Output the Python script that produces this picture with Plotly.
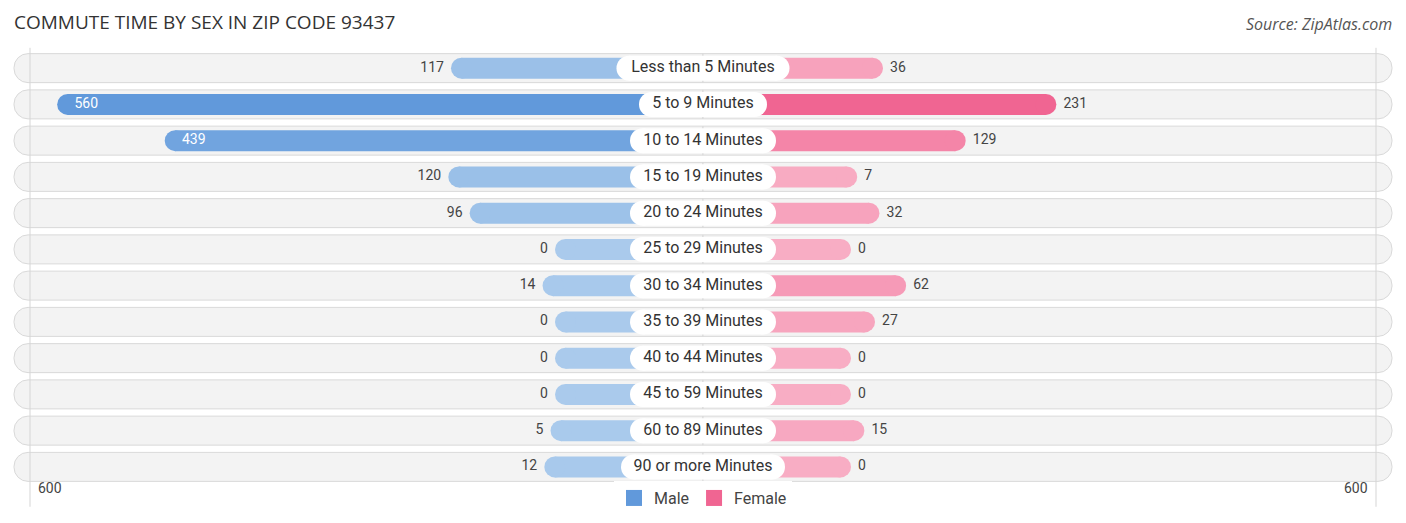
import plotly.graph_objects as go

categories = [
    "Less than 5 Minutes", "5 to 9 Minutes", "10 to 14 Minutes", "15 to 19 Minutes",
    "20 to 24 Minutes", "25 to 29 Minutes", "30 to 34 Minutes", "35 to 39 Minutes",
    "40 to 44 Minutes", "45 to 59 Minutes", "60 to 89 Minutes", "90 or more Minutes",
]
male = [117, 560, 439, 120, 96, 0, 14, 0, 0, 0, 5, 12]
female = [36, 231, 129, 7, 32, 0, 62, 27, 0, 0, 15, 0]
axis_max = 600

# layout helpers (pixels -> data units)
PX = 0.889          # px per unit
OFF = 148 / PX      # every bar starts under the centre label
EDGE = 689 / PX     # row background half width
GRID = 673 / PX     # where the "600" guide lines sit
HALF = 703 / PX
BAR_H = 21          # bar thickness, px
BOX_H = 25          # label box thickness, px
ROW = 36.25         # px per row
R_BAR = BAR_H / 2 / PX
R_BOX = BOX_H / 2 / PX
NB = "\u00a0"
INSIDE_MIN = 300    # values at least this big get their label inside the bar


def mix(c1, c2, t):
    a = [int(c1[i:i + 2], 16) for i in (1, 3, 5)]
    b = [int(c2[i:i + 2], 16) for i in (1, 3, 5)]
    return "rgb(%d,%d,%d)" % tuple(round(a[k] + (b[k] - a[k]) * t) for k in range(3))


male_cols = [mix("#aacaec", "#6199db", v / max(male)) for v in male]
female_cols = [mix("#f8adc4", "#f06592", v / max(female)) for v in female]

fig = go.Figure()

# row backgrounds (two halves so both ends get rounded)
for sign in (-1, 1):
    fig.add_trace(go.Bar(
        y=categories, x=[sign * EDGE] * len(categories), orientation="h",
        width=0.8, marker=dict(color="#f3f3f3", line=dict(color="#d9d9d9", width=1), cornerradius=14),
        showlegend=False, hoverinfo="skip",
    ))

# bars (square body) + round caps drawn as markers at the ends
for vals, cols, sign in ((male, male_cols, -1), (female, female_cols, 1)):
    fig.add_trace(go.Bar(
        y=categories, x=[sign * (v + OFF - R_BAR) for v in vals], orientation="h",
        width=BAR_H / ROW, marker=dict(color=cols, line=dict(width=0)),
        showlegend=False, hoverinfo="skip",
    ))

# white label boxes in the centre, sized from text length
box_half = [(9 * len(c) + 2) / 2 / PX for c in categories]
for sign in (-1, 1):
    fig.add_trace(go.Bar(
        y=categories, x=[sign * (h - R_BOX) for h in box_half], orientation="h",
        width=BOX_H / ROW, marker=dict(color="white", line=dict(width=0)),
        showlegend=False, hoverinfo="skip",
    ))

for vals, cols, sign in ((male, male_cols, -1), (female, female_cols, 1)):
    fig.add_trace(go.Scatter(
        y=categories, x=[sign * (v + OFF - R_BAR) for v in vals], mode="markers+text",
        marker=dict(size=BAR_H, color=cols, line=dict(width=0)),
        text=["" if v >= INSIDE_MIN else (str(v) + NB if sign < 0 else NB + str(v)) for v in vals],
        textposition="middle left" if sign < 0 else "middle right",
        textfont=dict(size=14, family="Roboto", color="#444"),
        cliponaxis=False, showlegend=False, hoverinfo="skip",
    ))
    # labels of long bars sit inside, near the outer end
    fig.add_trace(go.Scatter(
        y=categories, x=[sign * (v + OFF) for v in vals], mode="markers+text",
        marker=dict(size=26, color="rgba(0,0,0,0)", line=dict(width=0)),
        text=[str(v) if v >= INSIDE_MIN else "" for v in vals],
        textposition="middle right" if sign < 0 else "middle left",
        textfont=dict(size=14, family="Roboto", color="white"),
        cliponaxis=False, showlegend=False, hoverinfo="skip",
    ))

for sign in (-1, 1):
    fig.add_trace(go.Scatter(
        y=categories, x=[sign * (h - R_BOX) for h in box_half], mode="markers",
        marker=dict(size=BOX_H, color="white", line=dict(width=0)),
        showlegend=False, hoverinfo="skip",
    ))

fig.add_trace(go.Scatter(
    y=categories, x=[0] * len(categories), mode="text", text=categories,
    textfont=dict(size=16, color="#333", family="Roboto"),
    showlegend=False, hoverinfo="skip",
))

# legend entries
fig.add_trace(go.Scatter(x=[None], y=[None], name="Male", mode="markers",
                         marker=dict(symbol="square", size=16, color="#6199db")))
fig.add_trace(go.Scatter(x=[None], y=[None], name="Female", mode="markers",
                         marker=dict(symbol="square", size=16, color="#f06592")))

for sign in (-1, 1):
    fig.add_shape(type="line", xref="x", yref="paper", x0=sign * GRID, x1=sign * GRID,
                  y0=-0.05, y1=1.005, line=dict(color="#d5d5d5", width=1), layer="above")
    fig.add_annotation(x=sign * GRID, xref="x", y=-0.03, yref="paper",
                       text=str(axis_max), showarrow=False,
                       xanchor="left" if sign < 0 else "right", xshift=-sign * 6,
                       font=dict(size=14, color="#444", family="Roboto"))

fig.add_annotation(x=0, xref="paper", xshift=12, y=1.064, yref="paper", xanchor="left", yanchor="middle",
                   text="COMMUTE TIME BY SEX IN ZIP CODE 93437", showarrow=False,
                   font=dict(size=19, color="#333", family="Open Sans"))
fig.add_annotation(x=1, xref="paper", xshift=-12, y=1.06, yref="paper", xanchor="right", yanchor="middle",
                   text="<i>Source: ZipAtlas.com</i>", showarrow=False,
                   font=dict(size=16, color="#555", family="Open Sans"))

fig.update_layout(
    width=1406, height=523,
    margin=dict(l=0, r=0, t=50, b=38),
    barmode="overlay",
    plot_bgcolor="white", paper_bgcolor="white",
    xaxis=dict(range=[-HALF, HALF], visible=False, fixedrange=True),
    yaxis=dict(range=[11.5, -0.5], visible=False, fixedrange=True),
    legend=dict(orientation="h", x=0.5, xanchor="center", y=-0.03, yanchor="middle",
                font=dict(size=16, color="#444", family="Roboto"), traceorder="normal",
                itemsizing="trace", itemwidth=30),
)

fig.write_html("out.html", config={"displayModeBar": False},
               post_script="document.body.style.margin='0';")
